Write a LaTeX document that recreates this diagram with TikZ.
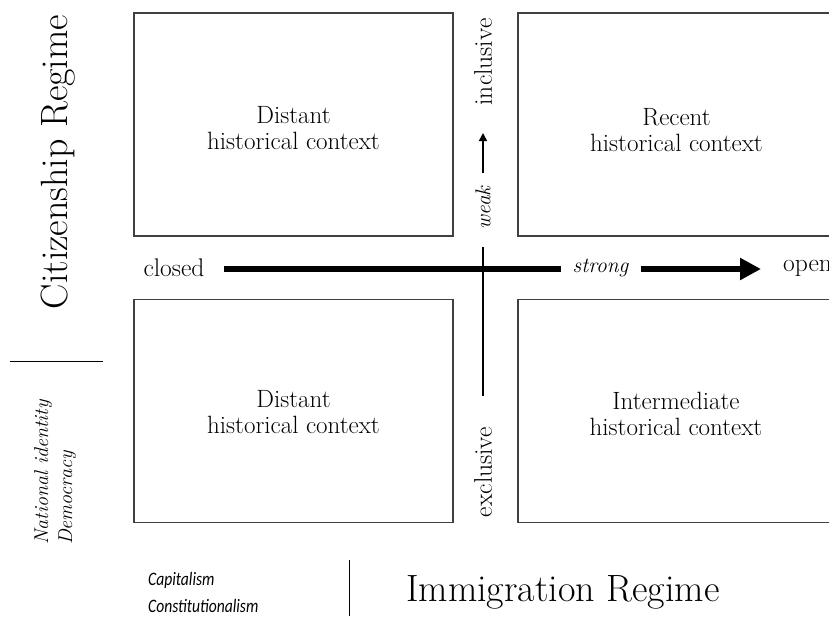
\documentclass[tikz,border=0pt]{standalone}
\usepackage{fontspec}
\newfontfamily\notefont[FakeStretch=0.82]{Carlito}
\usetikzlibrary{arrows.meta}
\begin{document}
\begin{tikzpicture}[x=1pt,y=-1pt,
  quadbox/.style={draw=black!75, line width=1.1pt, inner sep=0pt,
    minimum width=#1, minimum height=223pt},
  ctx/.style={align=center, inner sep=0pt, font=\fontsize{25}{26.5}\selectfont},
  lbl/.style={inner sep=0pt, font=\fontsize{25.5}{28}\selectfont},
  emph/.style={inner sep=0pt, font=\fontsize{21.5}{25}\selectfont\itshape},
  axisline/.style={line width=6pt},
  thinaxis/.style={line width=1.8pt},
  regime/.style={inner sep=0pt, font=\fontsize{38}{42}\selectfont},
  note/.style={inner sep=0pt, align=left, font=\fontsize{20}{24}\selectfont\itshape},
]
\useasboundingbox (0,0) rectangle (829,616);
\clip (0,0) rectangle (829,616);

% four context boxes
\node[quadbox=319pt] (tl) at (293.5,124.5) {};
\node[quadbox=316pt] (tr) at (676,124.5) {};
\node[quadbox=319pt] (bl) at (293.5,411) {};
\node[quadbox=316pt] (br) at (676,411) {};

\node[ctx] (tltxt) at (293.5,128) {Distant\\historical context};
\node[ctx] (trtxt) at (676.5,130) {Recent\\historical context};
\node[ctx] (bltxt) at (293.5,412) {Distant\\historical context};
\node[ctx] (brtxt) at (676,414) {Intermediate\\historical context};

% horizontal axis: closed -> open
\node[lbl] (closed) at (174,268) {closed};
\node[emph] (strong) at (600.5,268) {strong};
\node[lbl, anchor=west] (open) at (783,268) {open};
\coordinate (h1) at (224,269);
\coordinate (h2) at (561,269);
\coordinate (h3) at (641,269);
\coordinate (h4) at (761,269);
\draw[axisline] (h1) -- (h2);
\draw[axisline, -{Triangle[length=21pt,width=21pt]}] (h3) -- (h4);

% vertical axis: exclusive -> inclusive
\coordinate (v1) at (483,247);
\coordinate (v2) at (483,396);
\draw[thinaxis] (v1) -- (v2);
\node[emph, rotate=90] (weak) at (483,208) {weak};
\coordinate (w1) at (483,173);
\coordinate (w2) at (483,133);
\draw[line width=1.5pt, -{Triangle[length=8pt,width=8pt]}] (w1) -- (w2);
\node[lbl, rotate=90] (incl) at (483,62) {inclusive};
\node[lbl, rotate=90] (excl) at (483,472) {exclusive};

% regime titles
\node[regime, rotate=90] (citz) at (58,162) {Citizenship Regime};
\node[regime, anchor=west] (immi) at (406,592) {Immigration Regime};

% side notes with separators
\coordinate (s1) at (10,361);
\coordinate (s2) at (103,361);
\draw[line width=1pt] (s1) -- (s2);
\node[note, rotate=90, anchor=north west] (natdem) at (34,545) {National identity\\Democracy};

\coordinate (b1) at (349,560);
\coordinate (b2) at (349,616);
\draw[line width=1pt] (b1) -- (b2);
\node[note, anchor=west, font=\fontsize{19}{27}\selectfont\notefont\itshape] (capcon) at (148,592) {Capitalism\\Constitutionalism};
\end{tikzpicture}
\end{document}
